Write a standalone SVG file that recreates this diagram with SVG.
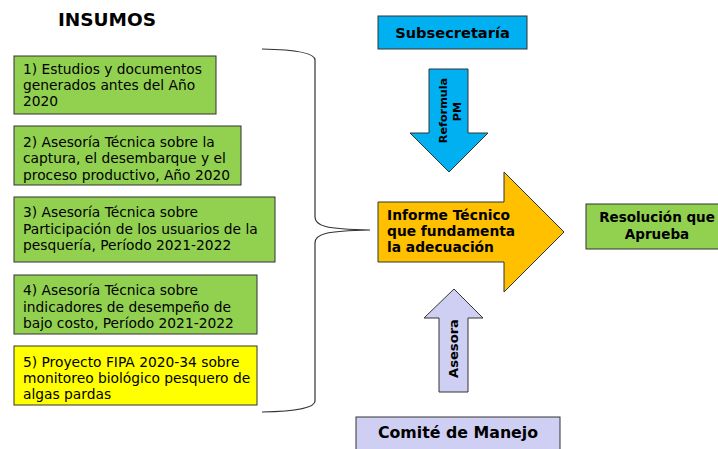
<svg xmlns="http://www.w3.org/2000/svg" width="718" height="449" viewBox="0 0 718 449">
<style>
text{font-family:"DejaVu Sans","Verdana",sans-serif;fill:#000}
.box{stroke:#333;stroke-width:1}
.t{font-size:13.8px}
.b{font-weight:bold}
.g{fill:#92D050}
</style>
<rect width="718" height="449" fill="#fff"/>
<text class="b" x="107" y="26" font-size="18.5" text-anchor="middle">INSUMOS</text>
<g id="n1"><rect class="box g" x="14" y="56" width="202" height="58"/>
<text class="t" x="23" y="73.5">1) Estudios y documentos</text><text class="t" x="23" y="90">generados antes del Año</text><text class="t" x="23" y="106">2020</text></g>
<g id="n2"><rect class="box g" x="14" y="126" width="227" height="59"/>
<text class="t" x="23" y="146.5">2) Asesoría Técnica sobre la</text><text class="t" x="23" y="163">captura, el desembarque y el</text><text class="t" x="23" y="179.5">proceso productivo, Año 2020</text></g>
<g id="n3"><rect class="box g" x="14" y="197" width="261" height="65"/>
<text class="t" x="23" y="217">3) Asesoría Técnica sobre</text><text class="t" x="23" y="233.5">Participación de los usuarios de la</text><text class="t" x="23" y="250">pesquería, Período 2021-2022</text></g>
<g id="n4"><rect class="box g" x="14" y="275" width="243" height="59"/>
<text class="t" x="23" y="295">4) Asesoría Técnica sobre</text><text class="t" x="23" y="311.5">indicadores de desempeño de</text><text class="t" x="23" y="328">bajo costo, Período 2021-2022</text></g>
<g id="n5"><rect class="box" fill="#FFFF00" x="14" y="346" width="243" height="59"/>
<text class="t" x="23" y="366.5">5) Proyecto FIPA 2020-34 sobre</text><text class="t" x="23" y="383">monitoreo biológico pesquero de</text><text class="t" x="23" y="399">algas pardas</text></g>
<g id="connectors" fill="none" stroke="#333" stroke-width="1.2">
<path d="M262,49 Q315,50 315,60 L315,217 C315,226 325,229 370,230 C325,231 315,234 315,243 L315,401 Q315,411 262,412"/>
</g>
<g id="subsecretaria"><rect class="box" fill="#00B0F0" x="378" y="16" width="149" height="33"/>
<text class="b" x="452.5" y="37.5" font-size="14.6" text-anchor="middle">Subsecretaría</text></g>
<g id="reformula"><path class="box" fill="#00B0F0" d="M429,69 L468,69 L468,133 L488,133 L449,172 L410,133 L429,133 Z"/>
<text class="b" font-size="11.2" text-anchor="middle" transform="translate(447,110.5) rotate(-90)">Reformula</text>
<text class="b" font-size="11.2" text-anchor="middle" transform="translate(461,111.5) rotate(-90)">PM</text></g>
<g id="informe"><path class="box" fill="#FFC000" d="M378,202 L504,202 L504,172 L564,232 L504,292 L504,262 L378,262 Z"/>
<text class="b" font-size="13.8" x="387" y="220">Informe Técnico</text><text class="b" font-size="13.8" x="387" y="236">que fundamenta</text><text class="b" font-size="13.8" x="387" y="252">la adecuación</text></g>
<g id="resolucion"><rect class="box g" x="586" y="204" width="142" height="45"/>
<text class="b" font-size="13.5" x="657" y="222" text-anchor="middle">Resolución que</text><text class="b" font-size="13.5" x="657" y="238.5" text-anchor="middle">Aprueba</text></g>
<g id="asesora"><path class="box" fill="#CFCFF3" d="M439,392 L468,392 L468,318 L483,318 L454,289 L424,318 L439,318 Z"/>
<text class="b" font-size="13.1" text-anchor="middle" transform="translate(458,348.5) rotate(-90)">Asesora</text></g>
<g id="comite"><rect class="box" fill="#CFCFF3" x="356" y="417" width="204" height="40"/>
<text class="b" font-size="15.8" x="458" y="438" text-anchor="middle">Comité de Manejo</text></g>
</svg>
